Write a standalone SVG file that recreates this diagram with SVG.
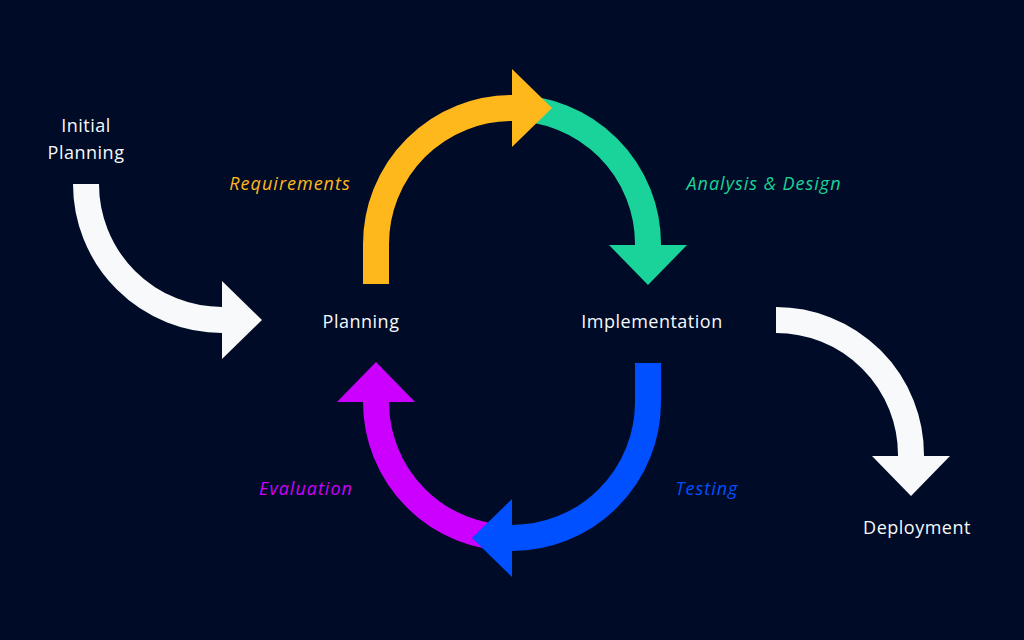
<svg xmlns="http://www.w3.org/2000/svg" width="1024" height="640" viewBox="0 0 1024 640">
  <style>
    .bg { fill: #000b27; }
    .arc { fill: none; stroke-width: 26; stroke-linecap: butt; }
    .node { font-family: "Open Sans", "Liberation Sans", sans-serif; font-size: 18px; font-weight: 500; letter-spacing: 0.5px; fill: #f7f9fb; text-anchor: middle; }
    .lbl { font-family: "Open Sans", "Liberation Sans", sans-serif; font-size: 18px; font-style: italic; letter-spacing: 1px; text-anchor: middle; }
    .white { stroke: #f7f9fb; }
    .yellow { stroke: #ffb81c; }
    .green { stroke: #19d39a; }
    .blue { stroke: #0050ff; }
    .magenta { stroke: #cc00ff; }
  </style>
  <defs>
    <marker id="hWhite" viewBox="0 0 40 78" refX="0" refY="39" markerWidth="40" markerHeight="78" markerUnits="userSpaceOnUse" orient="auto"><path d="M0,0 L40,39 L0,78 Z" fill="#f7f9fb"/></marker>
    <marker id="hYellow" viewBox="0 0 40 78" refX="0" refY="39" markerWidth="40" markerHeight="78" markerUnits="userSpaceOnUse" orient="auto"><path d="M0,0 L40,39 L0,78 Z" fill="#ffb81c"/></marker>
    <marker id="hGreen" viewBox="0 0 40 78" refX="0" refY="39" markerWidth="40" markerHeight="78" markerUnits="userSpaceOnUse" orient="auto"><path d="M0,0 L40,39 L0,78 Z" fill="#19d39a"/></marker>
    <marker id="hBlue" viewBox="0 0 40 78" refX="0" refY="39" markerWidth="40" markerHeight="78" markerUnits="userSpaceOnUse" orient="auto"><path d="M0,0 L40,39 L0,78 Z" fill="#0050ff"/></marker>
    <marker id="hMagenta" viewBox="0 0 40 78" refX="0" refY="39" markerWidth="40" markerHeight="78" markerUnits="userSpaceOnUse" orient="auto"><path d="M0,0 L40,39 L0,78 Z" fill="#cc00ff"/></marker>
  </defs>
  <rect class="bg" x="0" y="0" width="1024" height="640"/>

  <g id="connectors">
    <path id="c-initial" class="arc white" d="M86,184 A136,136 0 0 0 222,320" marker-end="url(#hWhite)"/>
    <path id="c-design" class="arc green" d="M512,108 A136,136 0 0 1 648,244 L648,245" marker-end="url(#hGreen)"/>
    <path id="c-requirements" class="arc yellow" d="M376,284 L376,244 A136,136 0 0 1 512,108" marker-end="url(#hYellow)"/>
    <path id="c-evaluation" class="arc magenta" d="M512,538 A136,136 0 0 1 376,402" marker-end="url(#hMagenta)"/>
    <path id="c-testing" class="arc blue" d="M648,363 L648,402 A136,136 0 0 1 512,538" marker-end="url(#hBlue)"/>
    <path id="c-deploy" class="arc white" d="M776,320 A135,135 0 0 1 911,455 L911,456" marker-end="url(#hWhite)"/>
    <text class="lbl" x="290" y="190" fill="#ffb81c">Requirements</text>
    <text class="lbl" x="764" y="190" fill="#19d39a">Analysis &amp; Design</text>
    <text class="lbl" x="306" y="495" fill="#cc00ff">Evaluation</text>
    <text class="lbl" x="707" y="495" fill="#0050ff">Testing</text>
  </g>

  <g id="node-initial-planning">
    <text class="node" x="86" y="132">Initial</text>
    <text class="node" x="86" y="159">Planning</text>
  </g>
  <g id="node-planning">
    <text class="node" x="361" y="328">Planning</text>
  </g>
  <g id="node-implementation">
    <text class="node" x="652" y="328">Implementation</text>
  </g>
  <g id="node-deployment">
    <text class="node" x="917" y="534">Deployment</text>
  </g>
</svg>
